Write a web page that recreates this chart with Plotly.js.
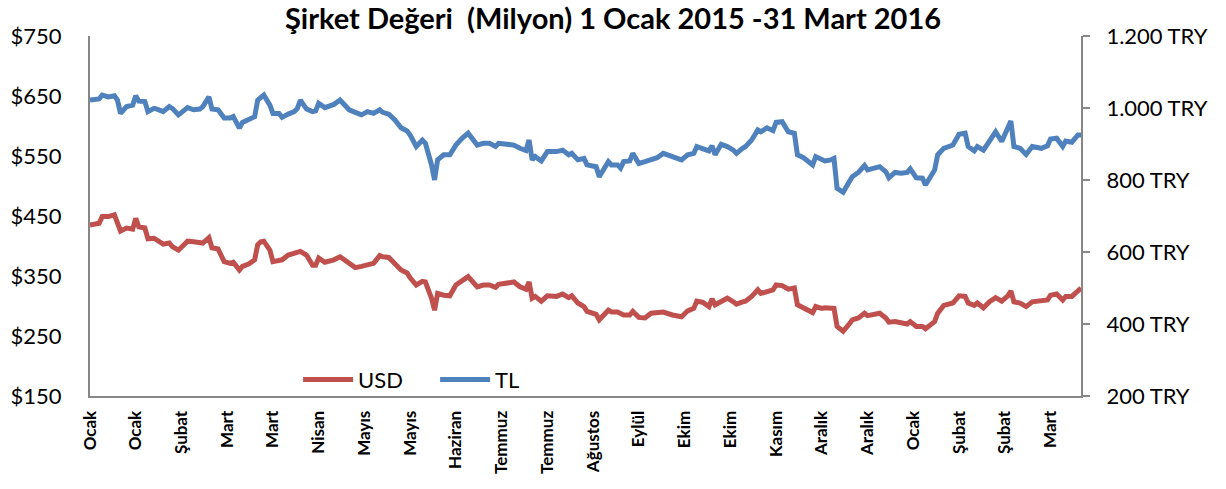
<!DOCTYPE html>
<html>
<head>
<meta charset="utf-8">
<script src="https://cdn.plot.ly/plotly-3.0.1.min.js"></script>
<style>html,body{margin:0;padding:0;background:#fff;}#chart{width:1226px;height:489px;}</style>
</head>
<body>
<div id="chart"></div>
<script>
// trading-day index (0 = 1 Ocak 2015, 325 = 31 Mart 2016)
const day = [0,3,4,6,8,9,10,12,14,15,16,18,19,21,22,24,26,27,29,31,32,34,36,37,39,40,42,44,46,47,49,50,52,54,55,56,57,59,60,62,63,65,67,68,69,71,73,74,75,77,79,80,82,85,87,89,91,93,95,96,98,100,102,104,105,107,109,110,112,113,114,116,118,120,122,124,127,129,131,133,134,137,139,141,143,144,145,146,148,150,153,155,157,158,160,162,163,166,167,170,171,173,174,175,177,178,180,182,184,186,188,191,194,196,198,199,201,203,204,205,207,209,211,212,214,215,217,219,220,222,224,225,227,229,231,232,234,236,237,238,240,241,243,244,245,247,249,250,252,254,255,257,259,261,262,264,266,268,269,271,273,274,277,278,280,283,285,287,288,290,291,293,295,297,299,301,302,303,305,307,309,312,314,315,317,319,320,322,324,325];

const usd = [435,438,449,449,452,440,425,430,428,446,432,430,412,413,410,403,405,399,393,405,408,407,405,405,414,397,395,374,371,373,360,366,370,377,402,407,408,393,374,377,377,385,388,388,391,385,368,368,380,373,375,377,382,371,364,366,368,371,384,382,381,371,360,355,347,335,341,340,313,293,321,318,317,335,343,349,332,335,335,331,336,338,340,332,328,340,313,316,308,317,316,320,314,317,305,299,291,286,277,293,290,290,288,285,285,291,281,280,288,289,290,285,282,292,296,308,306,299,312,302,308,313,307,303,307,308,316,327,321,323,327,335,334,328,330,302,297,293,289,299,296,297,296,296,266,258,270,277,280,288,284,286,288,280,273,274,271,270,274,266,266,262,274,288,301,305,317,316,305,301,305,297,307,314,308,317,325,307,305,299,307,308,310,318,320,310,316,316,327,330];

const tl = [1022,1025,1036,1031,1034,1022,985,1004,1008,1034,1019,1018,990,999,997,990,1004,999,981,997,1001,995,997,1004,1031,997,995,972,972,976,944,960,967,976,1022,1031,1036,1008,985,985,974,983,990,999,1022,997,990,992,1013,1001,1006,1010,1022,995,988,981,990,985,995,988,983,967,945,936,925,893,911,902,842,800,856,870,870,897,916,930,897,902,902,893,902,899,897,888,882,911,856,865,853,879,879,883,870,874,856,860,842,837,809,851,842,842,833,851,853,874,846,851,858,862,874,865,856,870,874,893,888,881,895,870,899,893,883,874,888,893,911,939,934,945,937,960,962,934,930,870,862,851,842,865,858,853,856,860,777,766,795,809,821,840,828,833,837,823,806,821,819,821,831,806,805,786,828,870,888,897,927,930,893,881,893,883,908,934,907,944,964,893,888,871,893,888,895,914,916,893,908,905,925,925];

const tickDays = [0,15,30,45,60,75,90,105,120,135,150,165,180,195,210,225,240,255,270,285,300,315];
const tickMonths = ['Ocak','Ocak','Şubat','Mart','Mart','Nisan','Mayıs','Mayıs','Haziran','Temmuz','Temmuz','Ağustos','Eylül','Ekim','Ekim','Kasım','Aralık','Aralık','Ocak','Şubat','Şubat','Mart'];

const usdTicks = [150,250,350,450,550,650,750];
const usdTickText = ['$150','$250','$350','$450','$550','$650','$750'];
const tlTicks = [200,400,600,800,1000,1200];
const tlTickText = ['200 TRY','400 TRY','600 TRY','800 TRY','1.000 TRY','1.200 TRY'];

const FONT = 'Lato, "Open Sans", sans-serif';
const AXIS = '#868686';

const traces = [
  {x: day, y: usd, name: 'USD', type: 'scatter', mode: 'lines', yaxis: 'y',
   line: {color: '#C0504D', width: 5, shape: 'linear'}},
  {x: day, y: tl, name: 'TL', type: 'scatter', mode: 'lines', yaxis: 'y2',
   line: {color: '#4F81BD', width: 5, shape: 'linear'}}
];

const layout = {
  width: 1226, height: 489,
  margin: {l: 90, r: 145, t: 36, b: 93, pad: 0},
  paper_bgcolor: '#fff', plot_bgcolor: '#fff',
  font: {family: FONT, color: '#000', size: 22},
  title: {text: 'Şirket Değeri  (Milyon) 1 Ocak 2015 -31 Mart 2016',
          font: {family: FONT, size: 29, weight: 'bold', color: '#000'},
          x: 0.5, xref: 'container', xanchor: 'center', y: 0.962, yref: 'container', yanchor: 'middle'},
  showlegend: true,
  legend: {orientation: 'h', x: 0.21, xanchor: 'left', y: 0.045, yanchor: 'middle',
           bgcolor: 'rgba(0,0,0,0)', font: {family: FONT, size: 22, color: '#000'},
           itemwidth: 50, entrywidth: 72, entrywidthmode: 'pixels', tracegroupgap: 0},
  xaxis: {range: [0, 325], tickmode: 'array', tickvals: tickDays, ticktext: tickMonths,
          tickangle: -90, tickfont: {family: FONT, size: 17, weight: 'bold', color: '#000'},
          showgrid: false, zeroline: false, showline: true, linecolor: AXIS, linewidth: 2,
          ticks: '', ticklabelstandoff: 6, fixedrange: true},
  yaxis: {range: [150, 750], tickmode: 'array', tickvals: usdTicks, ticktext: usdTickText,
          tickfont: {family: FONT, size: 22, color: '#000'},
          showgrid: false, zeroline: false, showline: true, linecolor: AXIS, linewidth: 2,
          ticks: '', ticklabelstandoff: 22},
  yaxis2: {range: [200, 1200], overlaying: 'y', side: 'right', tickmode: 'array',
           tickvals: tlTicks, ticktext: tlTickText,
           tickfont: {family: FONT, size: 22, color: '#000'},
           showgrid: false, zeroline: false, showline: true, linecolor: AXIS, linewidth: 2,
           ticks: 'outside', ticklen: 7, tickwidth: 2, tickcolor: AXIS, ticklabelstandoff: 12}
};

Plotly.newPlot('chart', traces, layout, {staticPlot: true, displayModeBar: false});
</script>
</body>
</html>
